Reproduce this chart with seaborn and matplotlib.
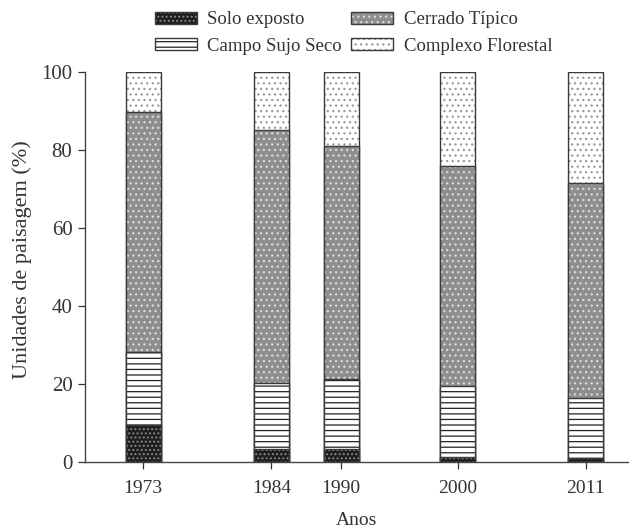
import matplotlib
matplotlib.use("Agg")
import matplotlib.pyplot as plt
import pandas as pd
import seaborn as sns
from matplotlib.patches import Patch
from matplotlib.legend_handler import HandlerTuple

# Landscape-unit shares (%) per survey year
anos = [1973, 1984, 1990, 2000, 2011]
solo_exposto = [9.6, 3.3, 3.3, 1.2, 1.0]
campo_sujo_seco = [18.5, 16.9, 18.0, 18.2, 15.3]
cerrado_tipico = [61.7, 64.9, 59.8, 56.6, 55.2]
complexo_florestal = [10.2, 14.9, 18.9, 24.0, 28.5]

classes = ["Solo exposto", "Campo Sujo Seco", "Cerrado Típico", "Complexo Florestal"]
series = [solo_exposto, campo_sujo_seco, cerrado_tipico, complexo_florestal]

# fill colour, hatch pattern, hatch colour for each class
styles = {
    "Solo exposto": ("#1e1e1e", "....", "#8a8a8a"),
    "Campo Sujo Seco": ("white", "---", "#222222"),
    "Cerrado Típico": ("#8e8e8e", "...", "#dcdcdc"),
    "Complexo Florestal": ("white", "...", "#9a9a9a"),
}
outline = "#3a3a3a"
text_color = "#333333"

sns.set_theme(style="ticks")
plt.rcParams["font.family"] = ["Liberation Serif", "DejaVu Serif"]
plt.rcParams["hatch.linewidth"] = 0.9

df = pd.DataFrame({"ano": anos})
for name, vals in zip(classes, series):
    df[name] = vals
# cumulative tops so each stacked segment can be drawn as an overlapping bar
cum = df[classes].cumsum(axis=1)

fig = plt.figure(figsize=(6.29, 5.31), dpi=100)
ax = fig.add_axes([0.135, 0.130, 0.863, 0.734])

width = 0.5
for name in reversed(classes):
    fc, hatch, hc = styles[name]
    layer = pd.DataFrame({"ano": df["ano"], "topo": cum[name]})
    n0 = len(ax.patches)
    sns.barplot(data=layer, x="ano", y="topo", native_scale=True, width=width,
                color=fc, saturation=1, errorbar=None, ax=ax)
    for p in ax.patches[n0:]:
        p.set_facecolor(fc)
        p.set_hatch(hatch)
        p.set_edgecolor(hc)
        p.set_linewidth(0)
    n1 = len(ax.patches)
    sns.barplot(data=layer, x="ano", y="topo", native_scale=True, width=width,
                fill=False, color=outline, saturation=1, errorbar=None,
                linewidth=1.0, ax=ax)
    for p in ax.patches[n1:]:
        p.set_edgecolor(outline)
        p.set_facecolor("none")
        p.set_linewidth(1.0)

ax.set_xlim(1968.0, 2014.6)
ax.set_ylim(0, 100)
ax.set_xticks(anos)
ax.set_xticklabels([str(a) for a in anos])
ax.set_yticks([0, 20, 40, 60, 80, 100])
ax.tick_params(axis="both", colors=text_color, length=5, width=0.9, direction="out")
ax.tick_params(axis="x", pad=8, labelsize=14)
ax.tick_params(axis="y", pad=4, labelsize=15)
for side in ("top", "right"):
    ax.spines[side].set_visible(False)
for side in ("left", "bottom"):
    ax.spines[side].set_color("#444444")
    ax.spines[side].set_linewidth(1.0)
ax.set_xlabel("Anos", fontsize=14, color=text_color, labelpad=11)
ax.set_ylabel("Unidades de paisagem (%)", fontsize=16, color=text_color)
ax.yaxis.set_label_coords(-0.097, 0.518)

handles = []
for name in classes:
    fc, hatch, hc = styles[name]
    handles.append((Patch(facecolor=fc, hatch=hatch, edgecolor=hc, linewidth=0),
                    Patch(facecolor="none", edgecolor=outline, linewidth=1.0)))
leg = fig.legend(handles, classes,
                 handler_map={tuple: HandlerTuple(ndivide=1)},
                 loc="upper center", bbox_to_anchor=(0.562, 1.0), ncol=2,
                 frameon=False, fontsize=13.5, handlelength=2.25, handleheight=0.6,
                 labelspacing=0.5, columnspacing=0.5, handletextpad=0.55,
                 borderpad=0.1)
for t in leg.get_texts():
    t.set_color(text_color)

fig.savefig("out.png", dpi=100)
